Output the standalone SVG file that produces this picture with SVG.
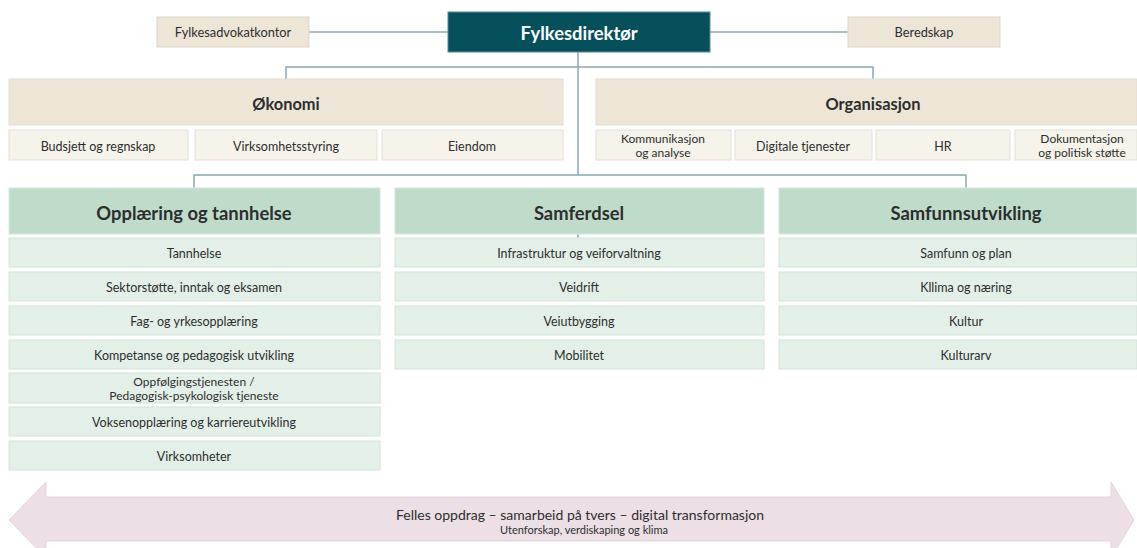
<svg xmlns="http://www.w3.org/2000/svg" width="1137" height="548" viewBox="0 0 1137 548">
<style>
text{font-family:Lato,"Noto Sans","Liberation Sans",sans-serif;fill:#2e2e2e;text-anchor:middle;dominant-baseline:central}
.dir{fill:#06505c;stroke:#5d8893;stroke-width:1}
.dirt{fill:#fff;font-size:18.4px;font-weight:bold}
.side{fill:#ede6d6;stroke:#dcd6c8;stroke-width:1}
.sidet{font-size:12.8px}
.sec{fill:#ede6d6;stroke:#e2ddd0;stroke-width:1}
.sect{font-size:16.4px;font-weight:bold}
.sub{fill:#f5f3ea;stroke:#e2e0d8;stroke-width:1}
.subt{font-size:12.5px}
.two{font-size:12px}
.hdr{fill:#bfdccb;stroke:#d5e7dc;stroke-width:1}
.hdrt{font-size:18.4px;font-weight:bold}
.row{fill:#e3f0e8;stroke:#d3e3d9;stroke-width:1}
.rowt{font-size:12.5px}
.ln{fill:none;stroke:#8aa8b4;stroke-width:1.5}
</style>
<g id="connectors">
<line class="ln" x1="309" y1="32" x2="448" y2="32"/>
<line class="ln" x1="710" y1="32" x2="848" y2="32"/>
<path class="ln" d="M286 79 V67 H873 V79"/>
<line class="ln" x1="578" y1="52" x2="578" y2="175"/>
<path class="ln" d="M194 188 V175 H966 V188"/>
<line class="ln" x1="578" y1="234" x2="578" y2="238"/>
</g>
<g id="fylkesdirektor"><rect class="dir" x="448" y="12" width="262" height="40"/><text class="dirt" x="579" y="33">Fylkesdirektør</text></g>
<g id="fylkesadvokatkontor"><rect class="side" x="157" y="17" width="152" height="30"/><text class="sidet" x="233" y="32">Fylkesadvokatkontor</text></g>
<g id="beredskap"><rect class="side" x="848" y="17" width="152" height="30"/><text class="sidet" x="924" y="32">Beredskap</text></g>

<g id="okonomi"><rect class="sec" x="9" y="79" width="554" height="46"/><text class="sect" x="286" y="103">Økonomi</text></g>
<g id="budsjett"><rect class="sub" x="9" y="130" width="179" height="30"/><text class="subt" x="98" y="146">Budsjett og regnskap</text></g>
<g id="virksomhetsstyring"><rect class="sub" x="195" y="130" width="182" height="30"/><text class="subt" x="286" y="146">Virksomhetsstyring</text></g>
<g id="eiendom"><rect class="sub" x="382" y="130" width="181" height="30"/><text class="subt" x="472" y="146">Eiendom</text></g>

<g id="organisasjon"><rect class="sec" x="596" y="79" width="541" height="46"/><text class="sect" x="873" y="103">Organisasjon</text></g>
<g id="kommunikasjon"><rect class="sub" x="596" y="130" width="135" height="30"/><text class="two" x="663" y="138.5">Kommunikasjon</text><text class="two" x="663" y="152.5">og analyse</text></g>
<g id="digitale"><rect class="sub" x="735" y="130" width="137" height="30"/><text class="subt" x="803" y="146">Digitale tjenester</text></g>
<g id="hr"><rect class="sub" x="876" y="130" width="134" height="30"/><text class="subt" x="943" y="146">HR</text></g>
<g id="dokumentasjon"><rect class="sub" x="1015" y="130" width="122" height="30"/><text class="two" x="1082" y="138.5">Dokumentasjon</text><text class="two" x="1082" y="152.5">og politisk støtte</text></g>

<g id="opplaering"><rect class="hdr" x="9" y="188" width="371" height="46"/><text class="hdrt" x="194" y="213">Opplæring og tannhelse</text></g>
<g id="tannhelse"><rect class="row" x="9" y="238" width="371" height="29"/><text class="rowt" x="194" y="253">Tannhelse</text></g>
<g id="sektorstotte"><rect class="row" x="9" y="272" width="371" height="29"/><text class="rowt" x="194" y="287">Sektorstøtte, inntak og eksamen</text></g>
<g id="fag"><rect class="row" x="9" y="306" width="371" height="29"/><text class="rowt" x="194" y="321">Fag- og yrkesopplæring</text></g>
<g id="kompetanse"><rect class="row" x="9" y="340" width="371" height="29"/><text class="rowt" x="194" y="355">Kompetanse og pedagogisk utvikling</text></g>
<g id="oppfolging"><rect class="row" x="9" y="373" width="371" height="30"/><text class="two" x="194" y="381.5">Oppfølgingstjenesten /</text><text class="two" x="194" y="395">Pedagogisk-psykologisk tjeneste</text></g>
<g id="voksen"><rect class="row" x="9" y="407" width="371" height="29"/><text class="rowt" x="194" y="422">Voksenopplæring og karriereutvikling</text></g>
<g id="virksomheter"><rect class="row" x="9" y="441" width="371" height="29"/><text class="rowt" x="194" y="456">Virksomheter</text></g>

<g id="samferdsel"><rect class="hdr" x="395" y="188" width="369" height="46"/><text class="hdrt" x="579" y="213">Samferdsel</text></g>
<g id="infrastruktur"><rect class="row" x="395" y="238" width="369" height="29"/><text class="rowt" x="579" y="253">Infrastruktur og veiforvaltning</text></g>
<g id="veidrift"><rect class="row" x="395" y="272" width="369" height="29"/><text class="rowt" x="579" y="287">Veidrift</text></g>
<g id="veiutbygging"><rect class="row" x="395" y="306" width="369" height="29"/><text class="rowt" x="579" y="321">Veiutbygging</text></g>
<g id="mobilitet"><rect class="row" x="395" y="340" width="369" height="29"/><text class="rowt" x="579" y="355">Mobilitet</text></g>

<g id="samfunnsutvikling"><rect class="hdr" x="779" y="188" width="358" height="46"/><text class="hdrt" x="966" y="213">Samfunnsutvikling</text></g>
<g id="samfunn"><rect class="row" x="779" y="238" width="358" height="29"/><text class="rowt" x="966" y="253">Samfunn og plan</text></g>
<g id="klima"><rect class="row" x="779" y="272" width="358" height="29"/><text class="rowt" x="966" y="287">Kllima og næring</text></g>
<g id="kultur"><rect class="row" x="779" y="306" width="358" height="29"/><text class="rowt" x="966" y="321">Kultur</text></g>
<g id="kulturarv"><rect class="row" x="779" y="340" width="358" height="29"/><text class="rowt" x="966" y="355">Kulturarv</text></g>

<g id="felles">
<polygon points="9,520 46,482 46,497 1111,497 1111,482 1134,520 1111,558 1111,541 46,541 46,558" fill="#ecdfe6" stroke="#e4d3dc" stroke-width="1"/>
<text x="580" y="514" font-size="14px">Felles oppdrag – samarbeid på tvers – digital transformasjon</text>
<text x="584" y="529" font-size="11px">Utenforskap, verdiskaping og klima</text>
</g>
</svg>
